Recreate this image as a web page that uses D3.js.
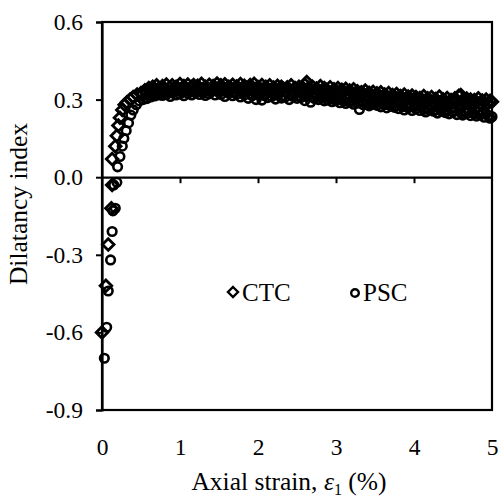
<!DOCTYPE html>
<html>
<head>
<meta charset="utf-8">
<script src="https://cdn.jsdelivr.net/npm/d3@7"></script>
<style>
  body { margin: 0; background: #fff; overflow: hidden; }
  svg { display: block; }
  text { font-family: "Liberation Serif", "Times New Roman", serif; fill: #000; }
</style>
</head>
<body>
<div id="chart"></div>
<script>
// ---- data ----
// start of loading (sparse points near zero strain)
const ctcEarlyStrain = [0.00, 0.05, 0.08, 0.12, 0.13, 0.13, 0.17, 0.19, 0.21, 0.23, 0.26, 0.29, 0.32, 0.36, 0.40, 0.45, 0.50];
const ctcEarlyIndex  = [-0.60, -0.42, -0.26, -0.12, -0.03, 0.07, 0.12, 0.16, 0.20, 0.23, 0.26, 0.28, 0.29, 0.30, 0.31, 0.32, 0.325];
const pscEarlyStrain = [0.03, 0.06, 0.08, 0.11, 0.13, 0.14, 0.17, 0.15, 0.19, 0.20, 0.23, 0.26, 0.28, 0.31, 0.34, 0.37, 0.40, 0.44, 0.48];
const pscEarlyIndex  = [-0.70, -0.58, -0.44, -0.32, -0.21, -0.13, -0.12, -0.03, -0.02, 0.04, 0.08, 0.12, 0.15, 0.18, 0.21, 0.24, 0.26, 0.28, 0.295];

// dense part of the test (shared strain readings)
const bandStrain = [
  0.525, 0.550, 0.575, 0.600, 0.625, 0.650, 0.675, 0.700, 0.725, 0.750,
  0.775, 0.800, 0.825, 0.850, 0.875, 0.900, 0.925, 0.950, 0.975, 1.000,
  1.025, 1.050, 1.075, 1.100, 1.125, 1.150, 1.175, 1.200, 1.225, 1.250,
  1.275, 1.300, 1.325, 1.350, 1.375, 1.400, 1.425, 1.450, 1.475, 1.500,
  1.525, 1.550, 1.575, 1.600, 1.625, 1.650, 1.675, 1.700, 1.725, 1.750,
  1.775, 1.800, 1.825, 1.850, 1.875, 1.900, 1.925, 1.950, 1.975, 2.000,
  2.025, 2.050, 2.075, 2.100, 2.125, 2.150, 2.175, 2.200, 2.225, 2.250,
  2.275, 2.300, 2.325, 2.350, 2.375, 2.400, 2.425, 2.450, 2.475, 2.500,
  2.525, 2.550, 2.575, 2.600, 2.625, 2.650, 2.675, 2.700, 2.725, 2.750,
  2.775, 2.800, 2.825, 2.850, 2.875, 2.900, 2.925, 2.950, 2.975, 3.000,
  3.025, 3.050, 3.075, 3.100, 3.125, 3.150, 3.175, 3.200, 3.225, 3.250,
  3.275, 3.300, 3.325, 3.350, 3.375, 3.400, 3.425, 3.450, 3.475, 3.500,
  3.525, 3.550, 3.575, 3.600, 3.625, 3.650, 3.675, 3.700, 3.725, 3.750,
  3.775, 3.800, 3.825, 3.850, 3.875, 3.900, 3.925, 3.950, 3.975, 4.000,
  4.025, 4.050, 4.075, 4.100, 4.125, 4.150, 4.175, 4.200, 4.225, 4.250,
  4.275, 4.300, 4.325, 4.350, 4.375, 4.400, 4.425, 4.450, 4.475, 4.500,
  4.525, 4.550, 4.575, 4.600, 4.625, 4.650, 4.675, 4.700, 4.725, 4.750,
  4.775, 4.800, 4.825, 4.850, 4.875, 4.900, 4.925, 4.950, 4.975, 5.000
];
const ctcBand = [
  0.322, 0.336, 0.328, 0.345, 0.333, 0.350, 0.338, 0.355, 0.342, 0.335,
  0.352, 0.340, 0.358, 0.333, 0.347, 0.355, 0.338, 0.350, 0.343, 0.360,
  0.336, 0.352, 0.344, 0.358, 0.332, 0.349, 0.356, 0.340, 0.353, 0.345,
  0.361, 0.338, 0.350, 0.343, 0.357, 0.335, 0.352, 0.346, 0.362, 0.340,
  0.355, 0.342, 0.359, 0.336, 0.350, 0.345, 0.357, 0.333, 0.351, 0.344,
  0.360, 0.338, 0.353, 0.346, 0.335, 0.356, 0.342, 0.361, 0.337, 0.349,
  0.343, 0.356, 0.334, 0.350, 0.340, 0.355, 0.332, 0.347, 0.338, 0.353,
  0.336, 0.350, 0.342, 0.331, 0.348, 0.339, 0.355, 0.333, 0.345, 0.337,
  0.350, 0.332, 0.346, 0.358, 0.368, 0.345, 0.336, 0.350, 0.330, 0.343,
  0.336, 0.352, 0.328, 0.345, 0.338, 0.332, 0.348, 0.326, 0.340, 0.334,
  0.345, 0.322, 0.338, 0.330, 0.342, 0.318, 0.335, 0.326, 0.340, 0.320,
  0.332, 0.316, 0.328, 0.322, 0.335, 0.312, 0.326, 0.318, 0.330, 0.310,
  0.324, 0.315, 0.328, 0.306, 0.320, 0.312, 0.325, 0.303, 0.318, 0.310,
  0.322, 0.300, 0.314, 0.307, 0.320, 0.298, 0.312, 0.304, 0.316, 0.300,
  0.310, 0.296, 0.306, 0.300, 0.314, 0.292, 0.305, 0.298, 0.310, 0.290,
  0.302, 0.295, 0.312, 0.288, 0.300, 0.294, 0.306, 0.286, 0.298, 0.292,
  0.305, 0.290, 0.315, 0.318, 0.298, 0.288, 0.304, 0.292, 0.300, 0.285,
  0.298, 0.290, 0.305, 0.284, 0.296, 0.291, 0.300, 0.286, 0.295, 0.292
];
const pscBand = [
  0.300, 0.308, 0.304, 0.315, 0.310, 0.322, 0.314, 0.326, 0.318, 0.330,
  0.316, 0.328, 0.320, 0.334, 0.312, 0.326, 0.332, 0.318, 0.336, 0.322,
  0.330, 0.315, 0.334, 0.324, 0.338, 0.318, 0.331, 0.326, 0.340, 0.320,
  0.333, 0.325, 0.316, 0.337, 0.322, 0.330, 0.342, 0.318, 0.334, 0.327,
  0.320, 0.336, 0.312, 0.330, 0.324, 0.338, 0.315, 0.328, 0.321, 0.334,
  0.310, 0.326, 0.318, 0.332, 0.305, 0.324, 0.315, 0.330, 0.300, 0.320,
  0.326, 0.298, 0.316, 0.322, 0.308, 0.328, 0.312, 0.320, 0.302, 0.318,
  0.324, 0.306, 0.316, 0.310, 0.326, 0.300, 0.318, 0.312, 0.322, 0.305,
  0.315, 0.308, 0.320, 0.296, 0.312, 0.318, 0.290, 0.310, 0.304, 0.316,
  0.300, 0.312, 0.305, 0.295, 0.310, 0.298, 0.306, 0.292, 0.302, 0.296,
  0.305, 0.288, 0.300, 0.294, 0.285, 0.302, 0.290, 0.296, 0.282, 0.298,
  0.286, 0.262, 0.292, 0.280, 0.295, 0.284, 0.276, 0.290, 0.282, 0.288,
  0.278, 0.290, 0.272, 0.285, 0.280, 0.268, 0.284, 0.275, 0.282, 0.270,
  0.278, 0.265, 0.282, 0.272, 0.260, 0.278, 0.268, 0.274, 0.258, 0.272,
  0.264, 0.276, 0.258, 0.270, 0.262, 0.252, 0.268, 0.260, 0.274, 0.255,
  0.262, 0.248, 0.266, 0.256, 0.270, 0.250, 0.260, 0.245, 0.264, 0.252,
  0.258, 0.242, 0.262, 0.250, 0.240, 0.256, 0.246, 0.260, 0.238, 0.250,
  0.244, 0.236, 0.252, 0.240, 0.248, 0.232, 0.245, 0.238, 0.228, 0.234
];

const yTicks = [0.6, 0.3, 0.0, -0.3, -0.6, -0.9];
const xTicks = [0, 1, 2, 3, 4, 5];
const seriesNames = ["CTC", "PSC"];

// ---- layout ----
const width = 501, height = 499;
const margin = { top: 22, right: 9, bottom: 89, left: 102 };
const innerWidth = width - margin.left - margin.right;
const innerHeight = height - margin.top - margin.bottom;

const svg = d3.select("#chart").append("svg")
  .attr("width", width)
  .attr("height", height);

const g = svg.append("g")
  .attr("transform", `translate(${margin.left},${margin.top})`);

const x = d3.scaleLinear().domain([0, 5]).range([0, innerWidth]);
const y = d3.scaleLinear().domain([-0.9, 0.6]).range([innerHeight, 0]);

// frame
g.append("rect")
  .attr("width", innerWidth)
  .attr("height", innerHeight)
  .attr("fill", "none")
  .attr("stroke", "#000")
  .attr("stroke-width", 2.2);

// y axis (outward ticks)
const yAxis = g.append("g")
  .call(d3.axisLeft(y).tickValues(yTicks).tickSize(6).tickPadding(13)
    .tickFormat(d => d.toFixed(1)));
yAxis.select(".domain").attr("stroke-width", 2.2);
yAxis.selectAll(".tick line").attr("stroke-width", 2);
yAxis.selectAll("text").style("font-size", "23.5px").attr("fill", "#000");

// x axis line at y = 0, ticks pointing down
const xAxis0 = g.append("g")
  .attr("transform", `translate(0,${y(0)})`)
  .call(d3.axisBottom(x).tickValues([1, 2, 3, 4]).tickSize(6).tickSizeOuter(0).tickFormat(""));
xAxis0.select(".domain").attr("stroke-width", 2.2);
xAxis0.selectAll(".tick line").attr("stroke-width", 2);

// x tick labels sit under the frame
const xAxisLab = g.append("g")
  .attr("transform", `translate(0,${innerHeight})`)
  .call(d3.axisBottom(x).tickValues(xTicks).tickSize(0).tickPadding(28).tickFormat(d3.format("d")));
xAxisLab.select(".domain").remove();
xAxisLab.selectAll("text").style("font-size", "23.5px").attr("fill", "#000");

// axis titles
const xt = g.append("text")
  .attr("x", innerWidth / 2 - 8)
  .attr("y", innerHeight + 80)
  .attr("text-anchor", "middle")
  .style("font-size", "25.5px");
xt.append("tspan").text("Axial strain, ");
xt.append("tspan").style("font-style", "italic").text("ε");
xt.append("tspan").attr("dy", 5).style("font-size", "16px").text("1");
xt.append("tspan").attr("dy", -5).text(" (%)");

svg.append("text")
  .attr("transform", `translate(27,${margin.top + innerHeight / 2 - 12}) rotate(-90)`)
  .attr("text-anchor", "middle")
  .style("font-size", "25.5px")
  .text("Dilatancy index");

// ---- markers ----
const diamond = s => `M0,${-s}L${s},0L0,${s}L${-s},0Z`;

const ctcData = ctcEarlyStrain.map((s, i) => ({ s, v: ctcEarlyIndex[i] }))
  .concat(bandStrain.map((s, i) => ({ s, v: ctcBand[i] })));
const pscData = pscEarlyStrain.map((s, i) => ({ s, v: pscEarlyIndex[i] }))
  .concat(bandStrain.map((s, i) => ({ s, v: pscBand[i] })));

g.append("g").selectAll("path")
  .data(ctcData)
  .join("path")
  .attr("transform", d => `translate(${x(d.s)},${y(d.v)})`)
  .attr("d", diamond(5.8))
  .attr("fill", "none")
  .attr("stroke", "#000")
  .attr("stroke-width", 2.8);

g.append("g").selectAll("circle")
  .data(pscData)
  .join("circle")
  .attr("cx", d => x(d.s))
  .attr("cy", d => y(d.v))
  .attr("r", 4.3)
  .attr("fill", "none")
  .attr("stroke", "#000")
  .attr("stroke-width", 2.6);

// ---- legend ----
const leg = svg.append("g").attr("transform", "translate(233,292)");
leg.append("path").attr("d", diamond(5)).attr("fill", "none").attr("stroke", "#000").attr("stroke-width", 2.4);
leg.append("text").attr("x", 9).attr("y", 9).style("font-size", "25px").text(seriesNames[0]);
leg.append("circle").attr("cx", 122).attr("cy", 1).attr("r", 3.8)
  .attr("fill", "none").attr("stroke", "#000").attr("stroke-width", 2.4);
leg.append("text").attr("x", 130).attr("y", 9).style("font-size", "25px").text(seriesNames[1]);
</script>
</body>
</html>
